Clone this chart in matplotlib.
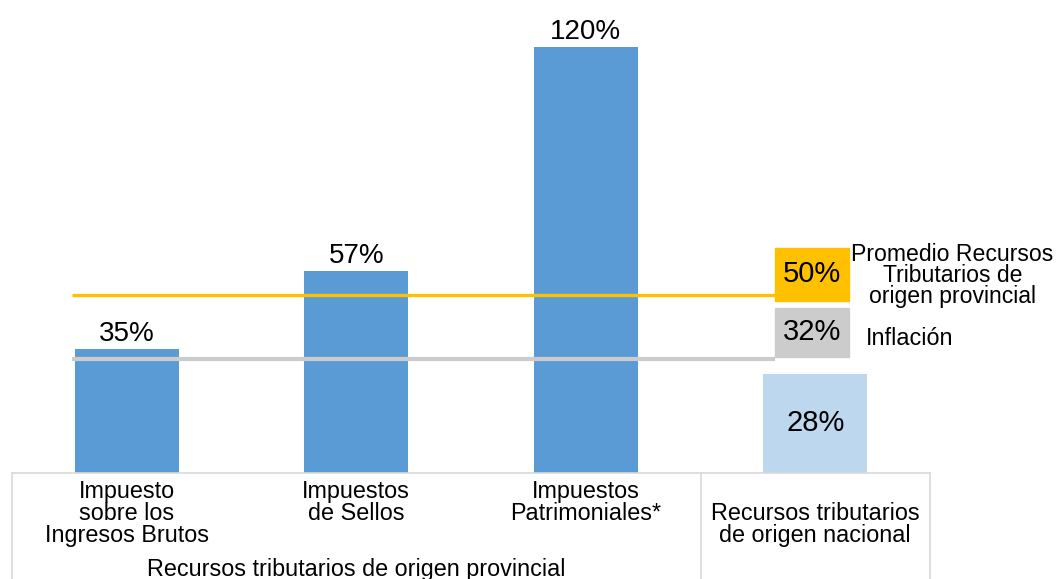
import matplotlib.pyplot as plt
from matplotlib.patches import Rectangle

# Data
categories = ["Impuesto\nsobre los\nIngresos Brutos", "Impuestos\nde Sellos",
              "Impuestos\nPatrimoniales*", "Recursos tributarios\nde origen nacional"]
values     = [35, 57, 120, 28]
bar_colors = ["#5B9BD5", "#5B9BD5", "#5B9BD5", "#BDD7EE"]
group_label = "Recursos tributarios de origen provincial"

avg_value   = 50
avg_label   = "Promedio Recursos\nTributarios de\norigen provincial"
infl_value  = 32
infl_label  = "Inflación"

plt.rcParams["font.family"] = ["Liberation Sans", "DejaVu Sans"]

fig = plt.figure(figsize=(10.59, 5.79), dpi=100)
ax = fig.add_axes([12 / 1059, 106 / 579, 918 / 1059, 473 / 579])
ax.set_xlim(-0.5, 3.5)
ax.set_ylim(0, 133.2)
ax.axis("off")

x = list(range(len(values)))
bars = ax.bar(x, values, width=0.454, color=bar_colors, zorder=2)

# value labels
for i, (b, v) in enumerate(zip(bars, values)):
    if i < 3:
        ax.annotate(f"{v}%", (b.get_x() + b.get_width() / 2, v), xytext=(0, 1),
                    textcoords="offset points", ha="center", va="bottom", fontsize=20)
    else:
        ax.text(b.get_x() + b.get_width() / 2, v / 2, f"{v}%",
                ha="center", va="center", fontsize=21)

# reference lines
line_x0, line_x1 = -0.238, 2.823
ax.plot([line_x0, line_x1], [avg_value, avg_value], color="#FFC000", lw=2.4, zorder=3,
        solid_capstyle="butt")
ax.plot([line_x0, line_x1], [infl_value, infl_value], color="#CCCCCC", lw=3, zorder=3,
        solid_capstyle="butt")

# boxes with line values
box_w = 0.323
ax.add_patch(Rectangle((line_x1, avg_value - 1.5), box_w, 14.9, color="#FFC000",
                       clip_on=False, zorder=3))
ax.text(line_x1 + box_w / 2, avg_value + 6, f"{avg_value}%", ha="center", va="center",
        fontsize=21)
ax.add_patch(Rectangle((line_x1, infl_value + 0.7), box_w, 13.8, color="#CCCCCC",
                       clip_on=False, zorder=3))
ax.text(line_x1 + box_w / 2, infl_value + 7.6, f"{infl_value}%", ha="center",
        va="center", fontsize=21)

ax.text(3.598, avg_value + 5.6, avg_label, ha="center", va="center", fontsize=16.6,
        linespacing=0.9, clip_on=False)
ax.text(3.22, infl_value + 6, infl_label, ha="left", va="center", fontsize=16.8,
        clip_on=False)

# category table below axis
grid_c = "#D9D9D9"
ax.plot([-0.5, 3.5], [0, 0], color=grid_c, lw=1.2, clip_on=False)
for xv in [-0.5, 2.5, 3.5]:
    ax.plot([xv, xv], [0, -30], color=grid_c, lw=1.2, clip_on=False)

for i, lab in enumerate(categories):
    if i < 3:
        ax.text(i, -2.0, lab, ha="center", va="top", fontsize=16.8, linespacing=0.93)
    else:
        ax.text(i, -14.5, lab, ha="center", va="center", fontsize=16.8, linespacing=0.93)

ax.text(1.0, -27.2, group_label, ha="center", va="center", fontsize=16.8)

plt.savefig("out.png", dpi=100)
